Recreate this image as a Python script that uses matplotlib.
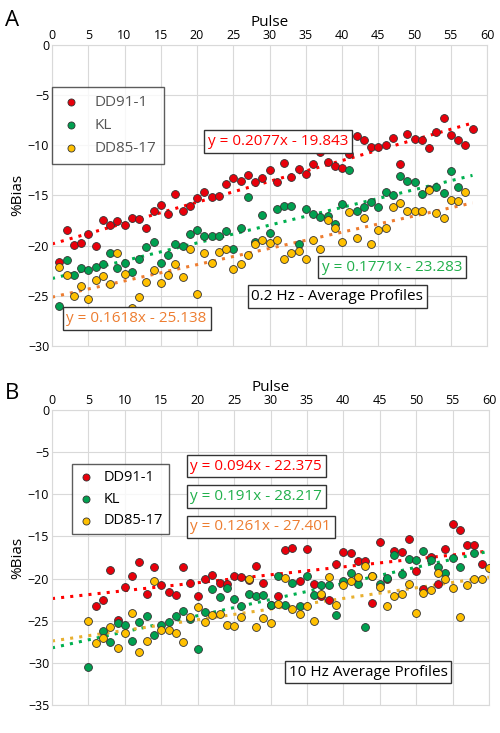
import matplotlib
matplotlib.use("Agg")
import matplotlib.pyplot as plt
import numpy as np

plt.rcParams['font.family'] = ['Open Sans', 'DejaVu Sans']

# Panel A (0.2 Hz)
a_red_x = list(range(1, 59))
a_red = [-21.6,-18.5,-19.9,-19.7,-18.8,-20.0,-17.5,-18.0,-17.6,-18.0,-17.3,-17.4,-18.3,-16.6,-16.0,-16.9,-14.9,-16.6,-16.1,-15.3,
         -14.7,-15.2,-15.1,-13.9,-13.3,-13.6,-13.0,-13.7,-13.3,-12.5,-13.7,-11.8,-13.2,-12.4,-12.9,-11.9,-10.7,-11.7,-12.1,-12.3,
         -10.9,-9.1,-9.5,-10.2,-10.2,-10.0,-9.3,-11.9,-8.9,-9.4,-9.5,-10.3,-8.7,-7.3,-9.0,-9.5,-10.0,-8.4]
a_grn_x = list(range(1, 57))
a_grn = [-26.0,-21.4,-22.9,-22.2,-22.4,-22.1,-21.8,-20.7,-22.2,-21.7,-22.6,-21.3,-20.1,-19.6,-21.7,-20.9,-19.8,-20.0,-18.8,-18.5,
         -19.0,-19.0,-19.0,-18.6,-20.3,-18.3,-15.2,-19.6,-17.0,-18.7,-16.4,-16.1,-16.1,-19.8,-16.4,-16.9,-17.2,-17.1,-17.9,-15.9,
         -12.5,-16.6,-16.2,-15.7,-16.2,-14.7,-15.0,-13.1,-13.6,-13.7,-14.9,-14.4,-14.2,-14.8,-12.6,-14.2]
a_yel_x = list(range(1, 58))
a_yel = [-22.1,-22.9,-25.0,-24.0,-25.3,-23.4,-23.0,-23.8,-20.7,-22.8,-26.2,-25.1,-23.6,-22.4,-23.7,-22.9,-21.8,-23.1,-20.3,-24.8,
         -20.7,-21.7,-20.6,-20.3,-22.3,-21.8,-20.9,-19.8,-19.4,-19.7,-19.4,-21.3,-20.7,-20.5,-21.3,-19.4,-20.3,-17.5,-18.3,-19.6,
         -16.7,-19.2,-17.3,-19.8,-18.5,-18.3,-16.2,-15.8,-16.6,-16.6,-16.6,-14.5,-16.8,-17.3,-15.5,-15.6,-14.7]
a_fits = [(0.2077, -19.843), (0.1771, -23.283), (0.1618, -25.138)]

# Panel B (10 Hz)
b_red_x = list(range(6, 60))
b_red = [-23.3,-22.5,-19.0,-24.9,-21.0,-19.7,-18.0,-21.8,-18.6,-20.8,-21.6,-22.0,-18.6,-20.5,-22.1,-20.0,-19.6,-20.5,-20.6,-19.7,
         -19.8,-20.2,-18.5,-20.5,-23.1,-22.1,-16.6,-16.4,-20.3,-16.5,-20.6,-22.1,-22.6,-18.3,-16.9,-17.0,-17.9,-17.9,-22.9,-15.7,
         -20.0,-16.7,-16.8,-15.3,-19.1,-21.2,-17.4,-20.6,-16.5,-13.5,-14.2,-16.0,-16.0,-18.3]
b_grn_x = [5] + list(range(7, 57)) + [58]
b_grn = [-30.5,-26.2,-27.5,-25.3,-25.5,-27.4,-25.2,-24.4,-26.7,-25.5,-25.2,-24.4,-23.9,-24.8,-28.4,-24.0,-21.2,-22.2,-21.1,-22.4,
         -23.2,-21.8,-22.1,-21.9,-23.1,-19.7,-23.1,-20.5,-23.2,-19.7,-22.0,-20.8,-20.8,-24.3,-20.3,-19.3,-20.7,-25.8,-19.7,-20.6,
         -19.9,-17.2,-19.5,-17.7,-17.8,-16.7,-17.8,-18.6,-19.4,-17.6,-18.6,-17.0]
b_yel_x = list(range(5, 61))
b_yel = [-25.0,-27.6,-27.1,-25.7,-28.2,-26.5,-24.1,-28.7,-27.4,-20.3,-26.1,-26.1,-26.4,-27.5,-24.5,-23.4,-25.2,-24.3,-24.2,-25.5,
         -25.6,-24.6,-20.0,-25.7,-24.7,-25.3,-23.0,-19.9,-23.6,-24.2,-23.3,-25.0,-21.8,-19.8,-23.1,-20.8,-20.3,-19.8,-18.5,-19.7,
         -21.0,-23.3,-22.1,-21.8,-20.6,-24.1,-21.7,-21.4,-19.4,-20.0,-21.1,-24.5,-20.8,-20.0,-20.0,-18.8]
b_fits = [(0.094, -22.375), (0.191, -28.217), (0.1261, -27.401)]

labels = ['DD91-1', 'KL', 'DD85-17']
pt_colors = ['#E8000B', '#00A050', '#FFC000']
txt_colors = ['#FF0000', '#22B04C', '#ED7D31']

fig = plt.figure(figsize=(5, 7.33), dpi=100)
axA = fig.add_axes([0.104, 0.528, 0.870, 0.411])
axB = fig.add_axes([0.104, 0.038, 0.874, 0.403])

def style(ax, ymin, ymax):
    ax.set_xlim(0, 60)
    ax.set_ylim(ymin, ymax)
    ax.set_xticks(range(0, 61, 5))
    ax.set_yticks(range(ymin, 1, 5))
    ax.xaxis.tick_top()
    ax.xaxis.set_label_position('top')
    ax.set_xlabel('Pulse', fontsize=11, labelpad=2)
    ax.set_ylabel('%Bias', fontsize=11, labelpad=2)
    ax.tick_params(length=0, labelsize=9, pad=2)
    ax.grid(True, color='#D9D9D9', lw=0.8)
    ax.set_axisbelow(True)
    for s in ax.spines.values():
        s.set_color('#D9D9D9')

def scatter(ax, xs, ys, fits, trend_colors, xmax):
    for x, y, c, l in zip(xs, ys, pt_colors, labels):
        ax.scatter(x, y, s=32, color=c, edgecolor='#333333', linewidth=0.6, label=l, zorder=3)
    xx = np.array([0, xmax])
    for (m, b), c in zip(fits, trend_colors):
        ax.plot(xx, m * xx + b, ls=(0, (1, 2)), lw=2.2, color=c, zorder=2)

style(axA, -30, 0)
scatter(axA, [a_red_x, a_grn_x, a_yel_x], [a_red, a_grn, a_yel], a_fits,
        ['#FF0000', '#00B050', '#ED7D31'], 58)
style(axB, -35, 0)
scatter(axB, [b_red_x, b_grn_x, b_yel_x], [b_red, b_grn, b_yel], b_fits,
        ['#FF0000', '#00B050', '#E8B030'], 60)

box = dict(boxstyle='square,pad=0.25', fc='white', ec='#333333', lw=1)
def eq(m, b):
    return f"y = {m}x - {abs(b)}"

fs = 11
# Panel A texts
axA.text(21.5, -10.0, eq(*a_fits[0]), color=txt_colors[0], fontsize=fs, bbox=box)
axA.text(37.2, -22.5, eq(*a_fits[1]), color=txt_colors[1], fontsize=fs, bbox=box)
axA.text(2.0, -27.6, eq(*a_fits[2]), color=txt_colors[2], fontsize=fs, bbox=box)
axA.text(27.5, -25.4, '0.2 Hz - Average Profiles', color='black', fontsize=fs, bbox=box)
legA = axA.legend(loc='upper left', bbox_to_anchor=(0.0, 0.86), fontsize=11, frameon=True,
                  handletextpad=0.8, borderpad=0.5, labelspacing=0.55, borderaxespad=0,
                  markerscale=0.9, fancybox=False, handlelength=1.5)
legA.get_frame().set_edgecolor('#333333'); legA.get_frame().set_linewidth(1)
for t in legA.get_texts():
    t.set_color('#555555')

# Panel B texts
axB.text(19.0, -7.1, eq(*b_fits[0]), color=txt_colors[0], fontsize=fs, bbox=box)
axB.text(19.0, -10.7, eq(*b_fits[1]), color=txt_colors[1], fontsize=fs, bbox=box)
axB.text(19.0, -14.3, eq(*b_fits[2]), color=txt_colors[2], fontsize=fs, bbox=box)
axB.text(32.5, -31.5, '10 Hz Average Profiles', color='black', fontsize=fs, bbox=box)
legB = axB.legend(loc='upper left', bbox_to_anchor=(0.045, 0.815), fontsize=10.5, frameon=True,
                  handletextpad=0.6, borderpad=0.4, labelspacing=0.45, borderaxespad=0,
                  markerscale=0.9, fancybox=False, handlelength=1.2)
legB.get_frame().set_edgecolor('#333333'); legB.get_frame().set_linewidth(1)

fig.text(0.01, 0.965, 'A', fontsize=16)
fig.text(0.01, 0.455, 'B', fontsize=16)

fig.savefig('out.png', dpi=100)
